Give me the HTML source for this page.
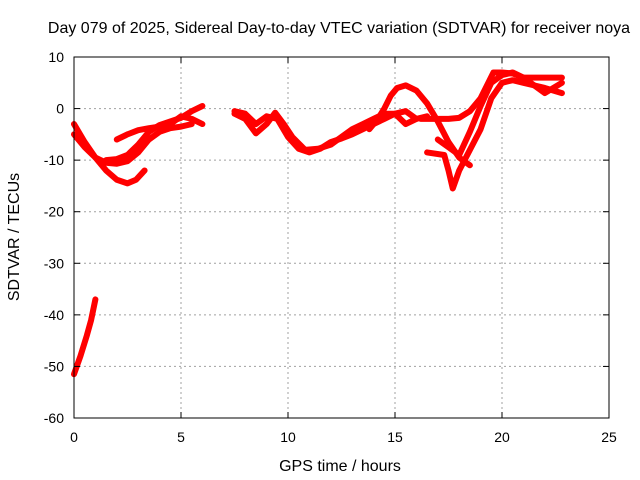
<!DOCTYPE html>
<html><head><meta charset="utf-8"><style>
html,body{margin:0;padding:0;background:#fff}
svg{display:block;font-family:"Liberation Sans",sans-serif}
</style></head><body>
<svg id="chart" width="640" height="480" viewBox="0 0 640 480">
<rect width="640" height="480" fill="#fff"/>
<text x="339" y="33" font-size="16" text-anchor="middle">Day 079 of 2025, Sidereal Day-to-day VTEC variation (SDTVAR) for receiver noya</text>
<text x="340" y="471" font-size="16" text-anchor="middle">GPS time / hours</text>
<text transform="translate(19,237) rotate(-90)" font-size="16" text-anchor="middle">SDTVAR / TECUs</text>
<g id="grid"></g><g id="series"></g><g id="axes"></g>
</svg>
<script>
const xTicks=[0,5,10,15,20,25];
const yTicks=[10,0,-10,-20,-30,-40,-50,-60];
const seriesA=[[0,-3],[0.5,-6.5],[1,-9.5],[1.5,-12],[2,-13.8],[2.5,-14.5],[2.9,-13.8],[3.3,-12]];
const seriesB=[[0,-5],[0.5,-7.5],[1,-9.5],[1.5,-10.5],[2,-10.7],[2.5,-10.2],[3,-8.5],[3.5,-6],[4,-4.5],[4.5,-3.8],[5,-3.5],[5.5,-3]];
const seriesC=[[1.5,-10],[2,-9.8],[2.5,-9],[3,-7],[3.5,-4.5],[4,-3.2],[4.5,-2.5],[5,-1.8],[5.5,-0.5],[6,0.5]];
const seriesD=[[2,-6],[2.5,-5],[3,-4.2],[3.5,-3.8],[4,-3.5],[4.5,-3],[5,-1.5],[5.5,-2],[6,-3]];
const seriesE=[[7.5,-0.5],[8,-1],[8.5,-3],[9,-1.5],[9.5,-2],[10,-5.5],[10.5,-7.8],[11,-8.5],[11.5,-7.8],[12,-6.5],[12.5,-5.8],[13,-5],[13.5,-4],[14,-3],[14.5,-2],[15,-1],[15.5,-0.5],[16,-2],[16.5,-1.5]];
const seriesF=[[7.5,-1],[8,-2],[8.5,-4.8],[9,-3],[9.4,-0.8],[9.8,-3],[10.2,-5.5],[10.8,-8],[11.4,-7.8],[12,-7],[12.5,-5.5],[13,-4],[13.5,-3],[14,-2],[14.5,-1],[15,-1],[15.5,-3],[16,-2]];
const seriesG=[[13.8,-4],[14.2,-2],[14.5,0],[14.8,2.5],[15.1,4],[15.5,4.5],[16,3.5],[16.5,1],[17,-2.5],[17.5,-6.5],[18,-9.5],[18.5,-11]];
const seriesH=[[16.2,-2],[17,-2],[17.5,-2],[18,-1.8],[18.5,-0.5],[19,2],[19.3,4.5],[19.6,7],[20,7],[20.5,6.8],[21,6],[22,6],[22.8,6]];
const seriesI=[[16.5,-8.5],[17.3,-9],[17.5,-12],[17.7,-15.5],[18,-12],[18.5,-8],[19,-4],[19.5,2],[20,5],[20.5,5.5],[21,5],[21.5,4.5],[22,4],[22.8,3]];
const seriesJ=[[17,-6],[17.5,-7.5],[18,-9],[18.5,-4.5],[19,0.5],[19.5,5],[20,6.5],[20.5,7],[21,6],[21.5,4.5],[22,3],[22.4,4],[22.8,5]];
const seriesK=[[0,-51.5],[0.3,-48],[0.6,-44],[0.8,-41],[1.0,-37]];
const allSeries=[seriesA,seriesB,seriesC,seriesD,seriesE,seriesF,seriesG,seriesH,seriesI,seriesJ,seriesK];
const X0=74,X1=609,Y0=57,Y1=418;
const xs=h=>X0+(h-0)*(X1-X0)/25;
const ys=v=>Y0+(10-v)*(Y1-Y0)/70;
const NS='http://www.w3.org/2000/svg';
const grid=document.getElementById('grid'),axes=document.getElementById('axes'),ser=document.getElementById('series');
function mk(tag,attrs,parent){const e=document.createElementNS(NS,tag);for(const k in attrs)e.setAttribute(k,attrs[k]);parent.appendChild(e);return e;}
xTicks.forEach(t=>{
  const x=xs(t);
  if(t>0&&t<25){const l=mk('line',{x1:x,y1:Y0,x2:x,y2:Y1,stroke:'#a0a0a0','stroke-dasharray':'2,3'},grid);
  
  }
  mk('line',{x1:x,y1:Y1,x2:x,y2:Y1-6,stroke:'#000'},axes);
  mk('line',{x1:x,y1:Y0,x2:x,y2:Y0+6,stroke:'#000'},axes);
  const tx=mk('text',{x:x,y:Y1+24,'font-size':14,'text-anchor':'middle'},axes);
  tx.textContent=t;
  
  
});
yTicks.forEach(t=>{
  const y=ys(t);
  if(t<10&&t>-60){const l=mk('line',{x1:X0,y1:y,x2:X1,y2:y,stroke:'#a0a0a0','stroke-dasharray':'2,3'},grid);
  
  }
  mk('line',{x1:X0,y1:y,x2:X0+6,y2:y,stroke:'#000'},axes);
  mk('line',{x1:X1,y1:y,x2:X1-6,y2:y,stroke:'#000'},axes);
  const tx=mk('text',{x:X0-10,y:y+5,'font-size':14,'text-anchor':'end'},axes);
  tx.textContent=t;
  
  
});
const frame=mk('rect',{x:X0,y:Y0,width:X1-X0,height:Y1-Y0,fill:'none',stroke:'#000'},axes);


allSeries.forEach(s=>{
  const p=mk('polyline',{points:s.map(d=>xs(d[0])+','+ys(d[1])).join(' '),fill:'none',stroke:'#f00','stroke-width':6,'stroke-linejoin':'round','stroke-linecap':'round'},ser);
  
  
});
</script>
</body></html>
